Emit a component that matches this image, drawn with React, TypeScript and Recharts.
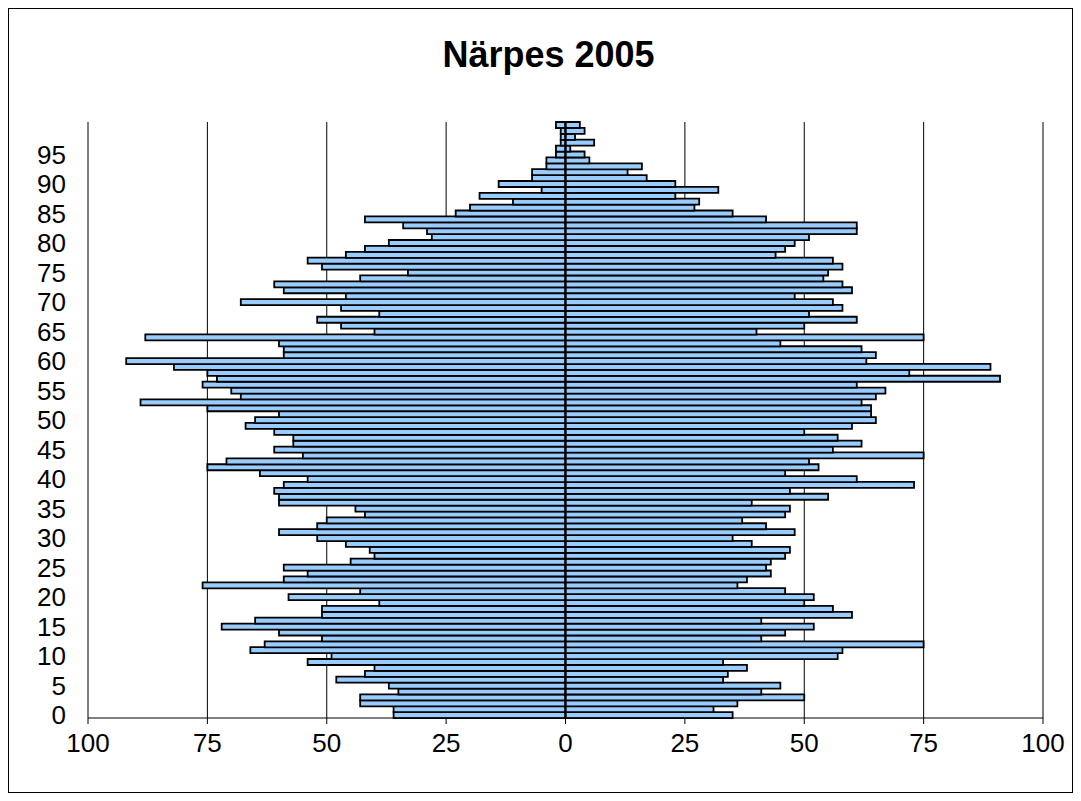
import React from "react";
import {
  BarChart,
  Bar,
  XAxis,
  YAxis,
  CartesianGrid,
  ReferenceLine,
} from "recharts";

// ages 0..100, read bottom to top
const ages = Array.from({ length: 101 }, (_, i) => i);

// left side of the pyramid
const men = [
  36, 36, 43, 43, 35, 37, 48, 42, 40, 54,
  49, 66, 63, 51, 60, 72, 65, 51, 51, 39,
  58, 43, 76, 59, 54, 59, 45, 40, 41, 46,
  52, 60, 52, 50, 42, 44, 60, 60, 61, 59,
  54, 64, 75, 71, 55, 61, 57, 57, 61, 67,
  65, 60, 75, 89, 68, 70, 76, 73, 75, 82,
  92, 59, 59, 60, 88, 40, 47, 52, 39, 47,
  68, 46, 59, 61, 43, 33, 51, 54, 46, 42,
  37, 28, 29, 34, 42, 23, 20, 11, 18, 5,
  14, 7, 7, 4, 4, 2, 2, 1, 1, 1,
  2,
];

// right side of the pyramid
const women = [
  35, 31, 36, 50, 41, 45, 33, 34, 38, 33,
  57, 58, 75, 41, 46, 52, 41, 60, 56, 50,
  52, 46, 36, 38, 43, 42, 43, 46, 47, 39,
  35, 48, 42, 37, 46, 47, 39, 55, 47, 73,
  61, 46, 53, 51, 75, 56, 62, 57, 50, 60,
  65, 64, 64, 62, 65, 67, 61, 91, 72, 89,
  63, 65, 62, 45, 75, 40, 50, 61, 51, 58,
  56, 48, 60, 58, 54, 55, 58, 56, 44, 46,
  48, 51, 61, 61, 42, 35, 27, 28, 23, 32,
  23, 17, 13, 16, 5, 4, 1, 6, 2, 4,
  3,
];

const xTicks = [-100, -75, -50, -25, 0, 25, 50, 75, 100];

const font = "Arial, 'Liberation Sans', sans-serif";

export default function App() {
  const data = ages.map((age, i) => ({
    age,
    men: -men[i],
    women: women[i],
  }));

  return (
    <div
      style={{
        position: "relative",
        width: 1063,
        height: 783,
        border: "1px solid #000",
        background: "#fff",
        fontFamily: font,
      }}
    >
      <div
        style={{
          position: "absolute",
          top: 28,
          left: 8,
          width: "100%",
          textAlign: "center",
          fontSize: 36,
          lineHeight: "36px",
          fontWeight: "bold",
          color: "#000",
        }}
      >
        Närpes 2005
      </div>
      <BarChart
        width={1063}
        height={783}
        data={data}
        layout="vertical"
        stackOffset="sign"
        barCategoryGap={0}
        margin={{ top: 113, right: 29, left: 0, bottom: 34 }}
      >
        <CartesianGrid horizontal={false} stroke="#000" strokeWidth={1} />
        <XAxis
          type="number"
          domain={[-100, 100]}
          ticks={xTicks}
          tickFormatter={(v: number) => String(Math.abs(v))}
          height={40}
          tickSize={6}
          tickMargin={10}
          stroke="#000"
          tick={{ fill: "#000", fontSize: 26, fontFamily: font }}
        />
        <YAxis
          type="category"
          dataKey="age"
          reversed
          width={79}
          interval={0}
          axisLine={false}
          tickLine={false}
          tickMargin={16}
          tickFormatter={(v: number) => (v % 5 === 0 && v < 100 ? String(v) : "")}
          tick={{ fill: "#000", fontSize: 26, fontFamily: font }}
        />
        <Bar
          dataKey="men"
          stackId="p"
          fill="#99CCFF"
          stroke="#000"
          strokeWidth={1.8}
          isAnimationActive={false}
        />
        <Bar
          dataKey="women"
          stackId="p"
          fill="#99CCFF"
          stroke="#000"
          strokeWidth={1.8}
          isAnimationActive={false}
        />
        <ReferenceLine x={0} stroke="#000" strokeWidth={2} />
      </BarChart>
    </div>
  );
}
